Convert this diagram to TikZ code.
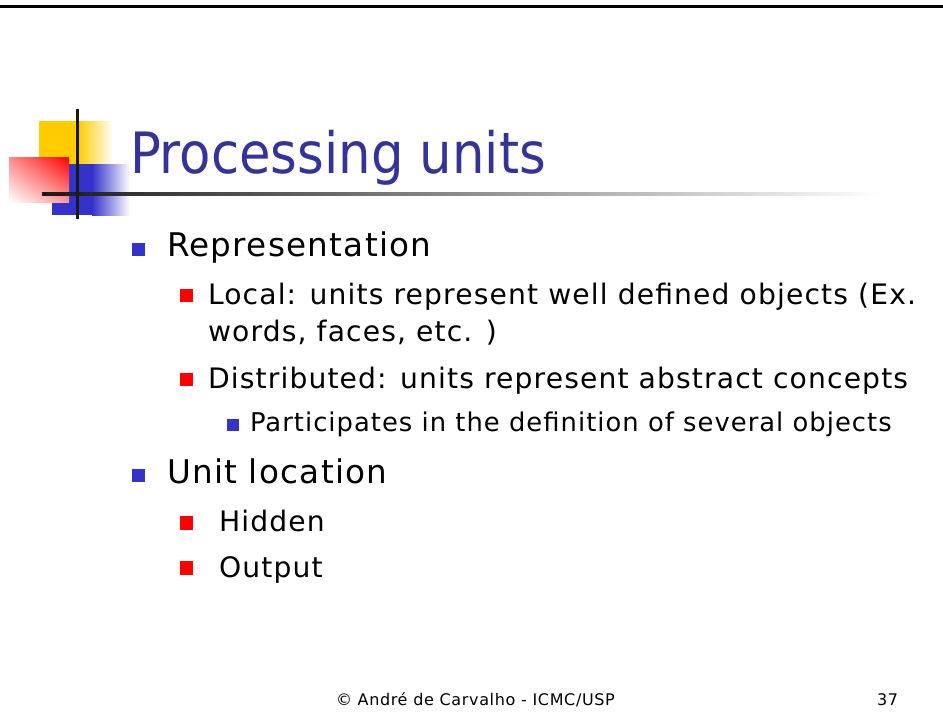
\documentclass[tikz,border=0pt]{standalone}
\usepackage{fontspec}
\setmainfont{DejaVu Sans Condensed}
\newfontfamily\bodyfont[LetterSpace=4]{DejaVu Sans}
\usetikzlibrary{shadings}
\begin{document}
\begin{tikzpicture}[x=1pt,y=-1pt,
  txt/.style={anchor=base west,inner sep=0pt,outer sep=0pt},
  sqbase/.style={rectangle,inner sep=0pt,outer sep=0pt,anchor=north west},
  bulletblue/.style={sqbase,fill=bulletBlue,minimum width=13pt,minimum height=13pt},
  bulletred/.style={sqbase,fill=bulletRed,minimum width=13.5pt,minimum height=13.5pt},
  bulletsmall/.style={sqbase,fill=bulletBlue,minimum width=12pt,minimum height=12pt},
  lvla/.style={txt,font=\bodyfont\fontsize{32.6}{38}\selectfont},
  lvlb/.style={txt,font=\bodyfont\fontsize{28.2}{33}\selectfont},
  lvlc/.style={txt,font=\bodyfont\fontsize{25.8}{30}\selectfont},
  foottxt/.style={txt,font=\bodyfont\fontsize{16}{19}\selectfont}]
\definecolor{titleBlue}{HTML}{333399}
\definecolor{bulletBlue}{HTML}{3333CC}
\definecolor{bulletRed}{HTML}{FF0000}
\definecolor{logoYellow}{HTML}{FFCC00}
\useasboundingbox (0,0) rectangle (943,720);
\fill[white] (0,0) rectangle (943,720);
% top rule
\fill[black] (0,5) rectangle (943,8);

% logo: yellow, blue, red squares with faded edges
\fill[logoYellow] (39,121) rectangle (78,165);
\shade[left color=logoYellow,right color=white] (78,121) rectangle (113,165);
\fill[bulletBlue] (52,164) rectangle (92,215);
\shade[left color=bulletBlue,right color=white] (92,164) rectangle (130,215);
\shade[upper right=red,upper left=red!45,lower right=red!40,lower left=white] (9,157) rectangle (69,202);
% logo cross lines
\shade[left color=black!90,right color=white] (42,192.5) rectangle (880,195.5);
\fill[black!90] (75.5,109) rectangle (78.5,219);

% title
\node[txt,font=\fontsize{57}{66}\selectfont,text=titleBlue] (title) at (130,173) {Processing units};

% first item
\node[bulletblue] (b1) at (132,243) {};
\node[lvla] (rep) at (167,256) {Representation};
\node[bulletred] (b11) at (179.5,288.5) {};
\node[lvlb] (loc) at (208,304) {Local: units represent well defined objects (Ex.};
\node[lvlb] (loc2) at (208,341) {words, faces, etc. )};
\node[bulletred] (b12) at (179.5,372.5) {};
\node[lvlb] (dist) at (208,388) {Distributed: units represent abstract concepts};
\node[bulletsmall] (b121) at (227,419) {};
\node[lvlc] (part) at (250,431) {Participates in the definition of several objects};

% second item
\node[bulletblue] (b2) at (132,469) {};
\node[lvla] (unit) at (167,483) {Unit location};
\node[bulletred] (b21) at (179.5,516) {};
\node[lvlb] (hid) at (219,531) {Hidden};
\node[bulletred] (b22) at (179.5,561) {};
\node[lvlb] (out) at (219,577) {Output};

% footer
\node[foottxt] (foot) at (336,705) {© André de Carvalho - ICMC/USP};
\node[foottxt] (page) at (877,705) {37};
\end{tikzpicture}
\end{document}
